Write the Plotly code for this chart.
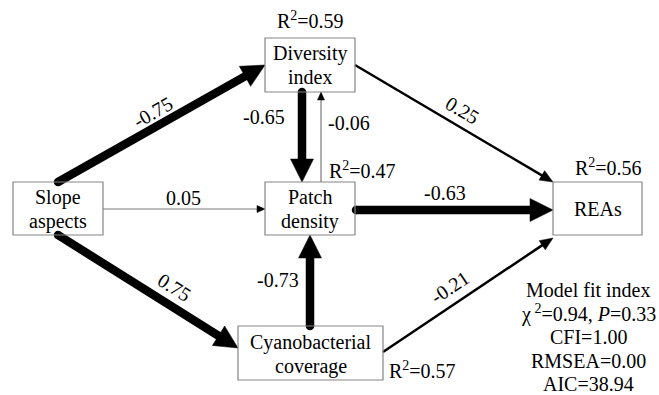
import numpy as np
import plotly.graph_objects as go

# ---------------- data ----------------
node_names = ["Slope<br>aspects", "Diversity<br>index", "Patch<br>density",
              "Cyanobacterial<br>coverage", "REAs"]
r2_values = [None, 0.59, 0.47, 0.57, 0.56]
path_from = [0, 1, 2, 0, 2, 1, 0, 3, 3]
path_to = [1, 2, 1, 2, 4, 4, 3, 2, 4]
path_coef = [-0.75, -0.65, -0.06, 0.05, -0.63, 0.25, 0.75, -0.73, -0.21]
fit_title = "Model fit index"
fit_labels = ["χ<sup> 2</sup>", "<i>P</i>", "CFI", "RMSEA", "AIC"]
fit_values = [0.94, 0.33, 1.00, 0.00, 38.94]

# ---------------- layout geometry ----------------
W, H = 659, 395
boxes = [(13, 182, 103, 235), (265, 38, 355, 92), (265, 182, 355, 235),
         (238, 326, 383, 380), (553, 182, 642, 235)]
node_text_y = [(197, 221), (53, 77), (197, 221), (342, 366), (209,)]
edge_pts = [((58, 182), (265, 65)), ((302, 92), (302, 182)), ((321, 182), (321, 92)),
            ((103, 209), (265, 209)), ((356, 210), (553, 210)), ((355, 65), (553, 182)),
            ((58, 235), (238, 348)), ((310, 326), (310, 235)), ((383, 352), (553, 238))]
label_pos = [(153, 112), (264, 117), (349, 123), (183, 198), (445, 193),
             (462, 110), (174, 287), (278, 280), (450, 287)]
label_rotate = [True, False, False, False, False, True, True, False, True]
r2_pos = {1: (310, 20), 2: (362, 170), 3: (422, 370), 4: (608, 167)}
fit_x = 588
fit_y = [290, 313, 337, 361, 384]

FONT = "Liberation Serif"
FS = 20

fig = go.Figure()


def style(c):
    a = abs(c)
    if a >= 0.5:
        return dict(w=8.5, L=23, Hh=11.5, col="black", head="black", cap=True)
    if a >= 0.2:
        return dict(w=2.5, L=13, Hh=5.5, col="black", head="black", cap=False)
    return dict(w=1.2, L=8, Hh=3.5, col="#7a7a7a", head="black", cap=False)


annotations = []
for i, c in enumerate(path_coef):
    (sx, sy), (tx, ty) = edge_pts[i]
    st = style(c)
    v = np.array([tx - sx, ty - sy], dtype=float)
    length = np.hypot(*v)
    u = v / length
    n = np.array([-u[1], u[0]])
    base = np.array([tx, ty]) - u * st["L"]
    end = base + u * 2
    fig.add_trace(go.Scatter(x=[sx, end[0]], y=[sy, end[1]], mode="lines",
                             line=dict(color=st["col"], width=st["w"]),
                             hoverinfo="skip", showlegend=False))
    if st["cap"]:
        fig.add_trace(go.Scatter(x=[sx], y=[sy], mode="markers",
                                 marker=dict(color=st["col"], size=st["w"], line=dict(width=0)),
                                 hoverinfo="skip", showlegend=False))
    p1 = base + n * st["Hh"]
    p2 = base - n * st["Hh"]
    fig.add_trace(go.Scatter(x=[tx, p1[0], p2[0], tx], y=[ty, p1[1], p2[1], ty],
                             mode="lines", fill="toself", fillcolor=st["head"],
                             line=dict(color=st["head"], width=0.5),
                             hoverinfo="skip", showlegend=False))
    ang = np.degrees(np.arctan2(ty - sy, tx - sx)) if label_rotate[i] else 0
    lx, ly = label_pos[i]
    annotations.append(dict(x=lx, y=ly, text=f"{c:.2f}", showarrow=False,
                            textangle=ang, font=dict(family=FONT, size=FS, color="black"),
                            xanchor="center", yanchor="middle"))

shapes = []
for k, (x0, y0, x1, y1) in enumerate(boxes):
    shapes.append(dict(type="rect", x0=x0, y0=y0, x1=x1, y1=y1,
                       line=dict(color="#858585", width=1.2), fillcolor="rgba(0,0,0,0)"))
    lines = node_names[k].split("<br>")
    cx = (x0 + x1) / 2
    for t, ty in zip(lines, node_text_y[k]):
        annotations.append(dict(x=cx, y=ty, text=t, showarrow=False,
                                font=dict(family=FONT, size=FS, color="black"),
                                xanchor="center", yanchor="middle"))

for k, r in enumerate(r2_values):
    if r is None:
        continue
    x, y = r2_pos[k]
    annotations.append(dict(x=x, y=y, text=f"R<sup>2</sup>={r:.2f}", showarrow=False,
                            font=dict(family=FONT, size=FS, color="black"),
                            xanchor="center", yanchor="middle"))

fit_lines = [fit_title,
             f"{fit_labels[0]}={fit_values[0]:.2f}, {fit_labels[1]}={fit_values[1]:.2f}",
             f"{fit_labels[2]}={fit_values[2]:.2f}",
             f"{fit_labels[3]}={fit_values[3]:.2f}",
             f"{fit_labels[4]}={fit_values[4]:.2f}"]
for t, y in zip(fit_lines, fit_y):
    annotations.append(dict(x=fit_x, y=y, text=t, showarrow=False,
                            font=dict(family=FONT, size=FS, color="black"),
                            xanchor="center", yanchor="middle"))

fig.update_layout(
    width=W, height=H, margin=dict(l=0, r=0, t=0, b=0),
    paper_bgcolor="white", plot_bgcolor="white",
    xaxis=dict(range=[0, W], visible=False, fixedrange=True),
    yaxis=dict(range=[H, 0], visible=False, fixedrange=True),
    shapes=shapes, annotations=annotations, showlegend=False,
)
fig.write_html("out.html")
